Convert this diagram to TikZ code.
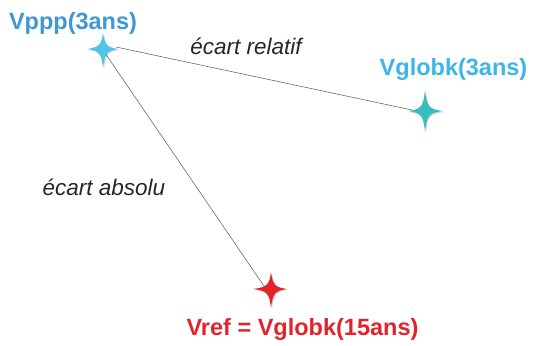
\documentclass[tikz,border=0pt]{standalone}
\usepackage{fontspec}
\setmainfont{Liberation Sans}
\definecolor{vpppcol}{RGB}{64,150,215}
\definecolor{starone}{RGB}{80,196,235}
\definecolor{vglobcol}{RGB}{60,182,232}
\definecolor{startwo}{RGB}{56,190,192}
\definecolor{redcol}{RGB}{226,36,42}
\definecolor{linecol}{RGB}{95,95,95}
\newcommand{\mystar}[6]{%
  (#1,#2-#3) .. controls (#1+1.8,#2-4) and (#1+4,#2-1.8) .. (#1+#4,#2)
  .. controls (#1+4,#2+1.8) and (#1+1.8,#2+4) .. (#1,#2+#5)
  .. controls (#1-1.8,#2+4) and (#1-4,#2+1.8) .. (#1-#6,#2)
  .. controls (#1-4,#2-1.8) and (#1-1.8,#2-4) .. (#1,#2-#3) -- cycle}
\begin{document}
\begin{tikzpicture}[x=1pt,y=-1pt,
  lab/.style={font=\fontsize{23.5}{27}\selectfont\bfseries, inner sep=0pt, anchor=base},
  gap/.style={font=\fontsize{22.5}{26}\selectfont\itshape, text=black!85, inner sep=0pt, anchor=base},
  conn/.style={draw=linecol, line width=0.55pt}]
\useasboundingbox (0,0) rectangle (534,345);
\coordinate (s1) at (103,49);
\coordinate (s2) at (425,111);
\coordinate (s3) at (271,289);
\coordinate (l1a) at (116,47);
\coordinate (l1b) at (412,110);
\coordinate (l2a) at (105,53);
\coordinate (l2b) at (266,289);
\draw[conn] (l1a) -- (l1b);
\draw[conn] (l2a) -- (l2b);
% shadows
\fill[black,opacity=0.18] \mystar{104}{50}{16}{15}{19}{16};
\fill[black,opacity=0.18] \mystar{426}{112}{21}{18}{21}{17};
\fill[black,opacity=0.18] \mystar{272}{290}{17}{16}{19}{18};
% stars
\fill[starone] \mystar{103}{49}{16}{15}{19}{16};
\fill[startwo] \mystar{425}{111}{21}{18}{21}{17};
\fill[redcol] \mystar{271}{289}{17}{16}{19}{18};
\node[lab, text=vpppcol] (t1) at (73,30) {Vppp(3ans)};
\node[lab, text=vglobcol] (t2) at (453.5,75) {Vglobk(3ans)};
\node[lab, text=redcol] (t3) at (302.5,335) {Vref = Vglobk(15ans)};
\node[gap] (g1) at (246,55) {écart relatif};
\node[gap] (g2) at (104,195) {écart absolu};
\end{tikzpicture}
\end{document}
